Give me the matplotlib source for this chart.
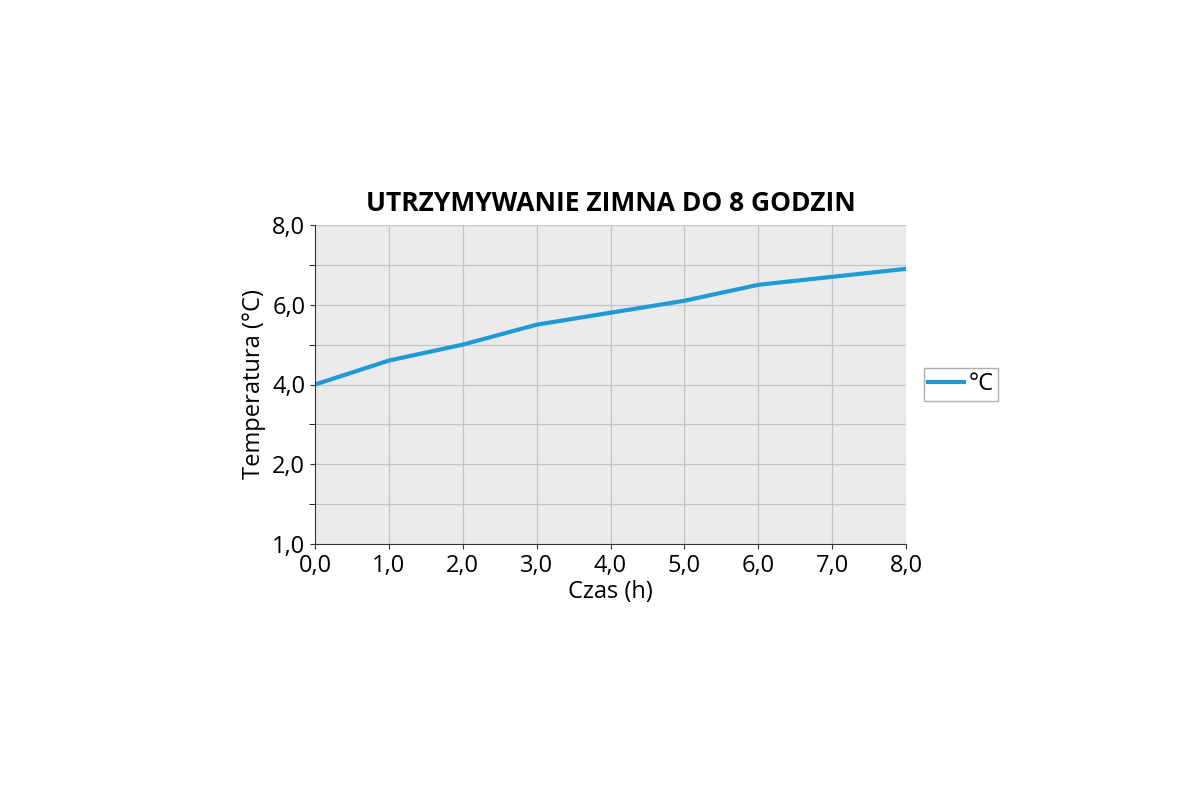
import matplotlib.pyplot as plt
from matplotlib.ticker import MultipleLocator

hours = [0, 1, 2, 3, 4, 5, 6, 7, 8]
temps = [4.0, 4.6, 5.0, 5.5, 5.8, 6.1, 6.5, 6.7, 6.9]
x_ticks = [0, 1, 2, 3, 4, 5, 6, 7, 8]
x_labels = ["0,0", "1,0", "2,0", "3,0", "4,0", "5,0", "6,0", "7,0", "8,0"]
y_ticks = [0, 2, 4, 6, 8]
y_labels = ["1,0", "2,0", "4,0", "6,0", "8,0"]

plt.rcParams["font.family"] = ["Open Sans", "DejaVu Sans"]

fig = plt.figure(figsize=(12, 8), dpi=100)
ax = fig.add_axes([0.2625, 0.32, 0.4925, 0.39875])
ax.set_facecolor("#ebebeb")
ax.plot(hours, temps, color="#1e9bd7", lw=3, label="°C")

ax.set_xlim(0, 8)
ax.set_ylim(0, 8)
ax.set_xticks(x_ticks)
ax.set_xticklabels(x_labels)
ax.set_yticks(y_ticks)
ax.set_yticklabels(y_labels)
ax.yaxis.set_minor_locator(MultipleLocator(1))
ax.grid(True, which="both", color="#c4c4c4", lw=0.9)
ax.set_axisbelow(True)
ax.tick_params(labelsize=17, color="#333333")
ax.tick_params(which="minor", length=4)
for side in ("top", "right"):
    ax.spines[side].set_visible(False)
ax.spines["left"].set_color("#333333")
ax.spines["bottom"].set_color("#333333")

ax.set_xlabel("Czas (h)", fontsize=17, labelpad=2)
ax.set_ylabel("Temperatura (°C)", fontsize=17)
ax.set_title("UTRZYMYWANIE ZIMNA DO 8 GODZIN", fontsize=19, fontweight="bold", pad=10)

ax.legend(loc="center left", bbox_to_anchor=(1.01, 0.5), fontsize=17, frameon=True,
          fancybox=False, edgecolor="#999999", handlelength=1.5, handletextpad=0.2,
          borderpad=0.2)

fig.savefig("out.png", dpi=100, facecolor="white")
